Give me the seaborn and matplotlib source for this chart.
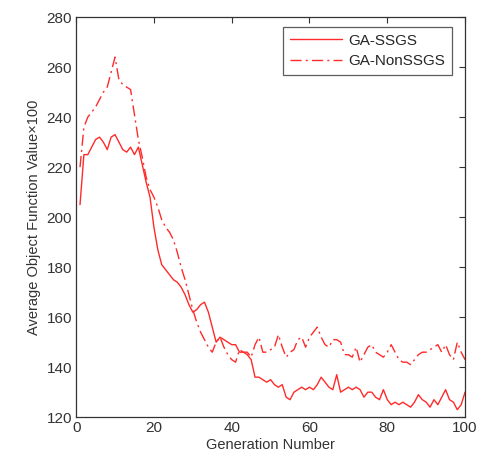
import matplotlib
matplotlib.use("Agg")
import matplotlib.pyplot as plt
import seaborn as sns
import numpy as np
import pandas as pd

# Generation numbers 1..100
generations = list(range(1, 101))

# GA-SSGS (solid) average objective value x100
ssgs = [205, 225, 225, 228, 231, 232, 230, 227, 232, 233,
        230, 227, 226, 228, 225, 228, 221, 214, 208, 196,
        187, 181, 179, 177, 175, 174, 172, 169, 165, 162,
        163, 165, 166, 162, 156, 150, 152, 151, 150, 149,
        149, 146, 146, 145, 143, 136, 136, 135, 134, 135,
        133, 132, 133, 128, 127, 130, 131, 132, 131, 132,
        131, 133, 136, 134, 132, 131, 137, 130, 131, 132,
        131, 132, 131, 128, 130, 130, 128, 127, 131, 127,
        125, 126, 125, 126, 125, 124, 126, 129, 127, 126,
        124, 127, 125, 128, 131, 127, 126, 123, 125, 130]

# GA-NonSSGS (dash-dot)
nonssgs = [220, 236, 240, 242, 244, 247, 250, 252, 258, 264,
           255, 253, 252, 251, 241, 231, 224, 216, 211, 208,
           204, 199, 196, 194, 191, 186, 180, 175, 169, 163,
           158, 154, 151, 148, 146, 150, 152, 148, 145, 143,
           142, 147, 146, 146, 144, 149, 152, 146, 146, 147,
           148, 153, 148, 144, 146, 147, 151, 152, 148, 152,
           154, 156, 152, 149, 148, 151, 151, 150, 145, 145,
           144, 148, 142, 145, 148, 149, 146, 145, 144, 146,
           149, 146, 143, 142, 142, 141, 143, 145, 146, 146,
           147, 148, 149, 146, 149, 145, 143, 150, 146, 143]

df = pd.DataFrame({
    "Generation": generations * 2,
    "Value": ssgs + nonssgs,
    "Method": ["GA-SSGS"] * len(ssgs) + ["GA-NonSSGS"] * len(nonssgs),
})

sns.set_style("white")
plt.rcParams["font.family"] = ["Liberation Sans", "DejaVu Sans"]

fig = plt.figure(figsize=(4.88, 4.62), dpi=100)
ax = fig.add_axes([0.156, 0.097, 0.797, 0.866])

sns.lineplot(data=df, x="Generation", y="Value", hue="Method", style="Method",
             palette={"GA-SSGS": "#ff2a2a", "GA-NonSSGS": "#ff2a2a"},
             dashes={"GA-SSGS": "", "GA-NonSSGS": (8, 3, 1.5, 3)},
             linewidth=1.0, ax=ax)

ax.set_xlim(0, 100)
ax.set_ylim(120, 280)
ax.set_xticks(np.arange(0, 101, 20))
ax.set_yticks(np.arange(120, 281, 20))
ax.set_xlabel("Generation Number", fontsize=10.5, color="#333333", labelpad=2)
ax.set_ylabel("Average Object Function Value\u00d7100", fontsize=10.5, color="#333333", labelpad=4)
ax.tick_params(direction="in", length=4, width=0.8, labelsize=11,
               top=True, right=True, colors="#333333", pad=3)
for s in ax.spines.values():
    s.set_color("#333333")
    s.set_linewidth(0.9)
    s.set_visible(True)

leg = ax.legend(loc="upper right", fontsize=11, frameon=True, fancybox=False,
                edgecolor="#333333", handlelength=3.4, handletextpad=0.4,
                borderpad=0.45, labelspacing=0.45, bbox_to_anchor=(0.985, 0.995))
leg.get_frame().set_linewidth(0.9)

fig.savefig("out.png", dpi=100)
